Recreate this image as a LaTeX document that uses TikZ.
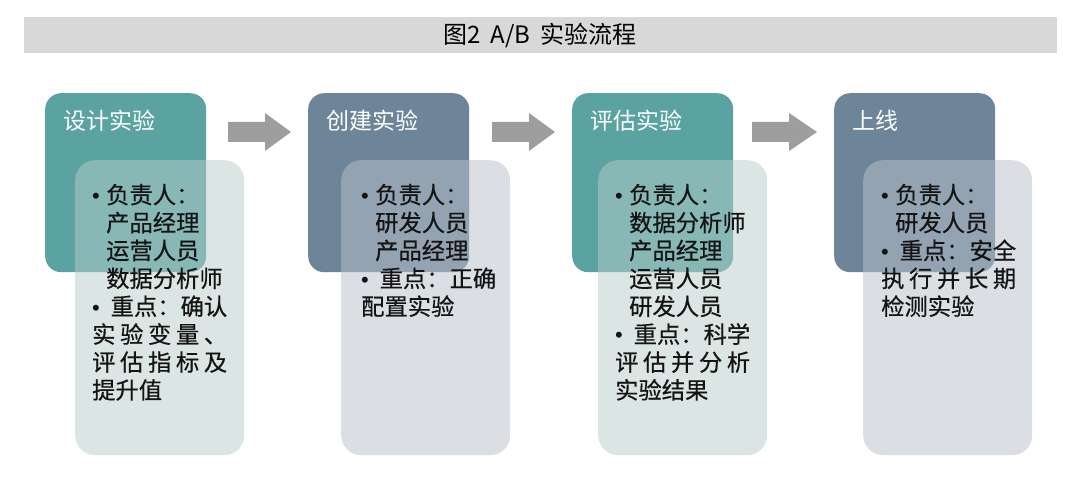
\documentclass[tikz,border=0pt]{standalone}
\usepackage{fontspec}
\setmainfont{Noto Sans CJK SC}
\newfontfamily\bodyfont[FakeBold=0.5]{Noto Sans CJK SC}
\newfontfamily\bulfont{Liberation Sans}
\definecolor{hdrteal}{RGB}{90,163,160}
\definecolor{hdrslate}{RGB}{110,133,153}
\definecolor{bodyteal}{RGB}{182,205,203}
\definecolor{bodyslate}{RGB}{185,193,203}
\definecolor{arrowgray}{RGB}{158,158,158}
\definecolor{titlegray}{RGB}{216,216,216}
\definecolor{txtdark}{RGB}{20,20,20}
\tikzset{
  hdrbox/.style={anchor=north west, rounded corners=16pt, minimum width=161pt, minimum height=179pt, inner sep=0pt},
  bodybox/.style={anchor=north west, rounded corners=20pt, minimum width=169pt, minimum height=295pt, inner sep=0pt, fill opacity=0.5},
  hdrtxt/.style={anchor=base west, inner sep=0pt, text=white, font=\fontsize{23}{28}\selectfont},
  bodytxt/.style={anchor=base west, inner sep=0pt, text=txtdark, font=\bodyfont\fontsize{23.3}{28}\selectfont},
  pics/blockarrow/.style={code={
    \fill[arrowgray] (0,-10) -- (37,-10) -- (37,-19) -- (#1,0) -- (37,19) -- (37,10) -- (0,10) -- cycle;}}
}
\newcommand{\bul}{{\bulfont\fontsize{22}{28}\selectfont •}}
\begin{document}
\begin{tikzpicture}[x=1pt,y=-1pt]
\useasboundingbox (0,0) rectangle (1080,489);
\fill[white] (0,0) rectangle (1080,489);
% title bar
\node[fill=titlegray, anchor=north west, minimum width=1033pt, minimum height=36pt, inner sep=0pt] (bar) at (24,17) {};
\node[font=\fontsize{24}{28}\selectfont, text=black] (title) at (540,35) {图2\hspace{10pt}A/B\hspace{10pt}实验流程};
% headers
\node[hdrbox, fill=hdrteal] (h1) at (45,93) {};
\node[hdrbox, fill=hdrslate] (h2) at (308,93) {};
\node[hdrbox, fill=hdrteal] (h3) at (572,93) {};
\node[hdrbox, fill=hdrslate] (h4) at (834,93) {};
\node[hdrtxt] (t1) at (63,130) {设计实验};
\node[hdrtxt] (t2) at (326,130) {创建实验};
\node[hdrtxt] (t3) at (590,130) {评估实验};
\node[hdrtxt] (t4) at (852,130) {上线};
% arrows
\coordinate (a1) at (228,132);
\coordinate (a2) at (492,132);
\coordinate (a3) at (752,132);
\pic at (a1) {blockarrow=63};
\pic at (a2) {blockarrow=63};
\pic at (a3) {blockarrow=65};
% bodies
\node[bodybox, fill=bodyteal] (b1) at (75,160) {};
\node[bodybox, fill=bodyslate] (b2) at (341,160) {};
\node[bodybox, fill=bodyteal] (b3) at (598,160) {};
\node[bodybox, fill=bodyslate] (b4) at (863,160) {};
% body texts
\foreach \t [count=\i] in {
  {\makebox[14pt][l]{\bul}负责人：},
  {\hspace*{14pt}产品经理},
  {\hspace*{14pt}运营人员},
  {\hspace*{14pt}数据分析师},
  {\makebox[135pt]{\bul\hfill 重点：确认}},
  {\makebox[135pt]{实\hfill 验\hfill 变\hfill 量\hfill 、}},
  {\makebox[135pt]{评\hfill 估\hfill 指\hfill 标\hfill 及}},
  {提升值}}
  \node[bodytxt] (ba\i) at (92,{203.5+27.9*(\i-1)}) {\t};
\foreach \t [count=\i] in {
  {\makebox[14pt][l]{\bul}负责人：},
  {\hspace*{14pt}研发人员},
  {\hspace*{14pt}产品经理},
  {\makebox[135pt]{\bul\hfill 重点：正确}},
  {配置实验}}
  \node[bodytxt] (bb\i) at (361,{203.5+27.9*(\i-1)}) {\t};
\foreach \t [count=\i] in {
  {\makebox[14pt][l]{\bul}负责人：},
  {\hspace*{14pt}数据分析师},
  {\hspace*{14pt}产品经理},
  {\hspace*{14pt}运营人员},
  {\hspace*{14pt}研发人员},
  {\makebox[135pt]{\bul\hfill 重点：科学}},
  {\makebox[135pt]{评\hfill 估\hfill 并\hfill 分\hfill 析}},
  {实验结果}}
  \node[bodytxt] (bc\i) at (615,{203.5+27.9*(\i-1)}) {\t};
\foreach \t [count=\i] in {
  {\makebox[14pt][l]{\bul}负责人：},
  {\hspace*{14pt}研发人员},
  {\makebox[135pt]{\bul\hfill 重点：安全}},
  {\makebox[135pt]{执\hfill 行\hfill 并\hfill 长\hfill 期}},
  {检测实验}}
  \node[bodytxt] (bd\i) at (881,{203.5+27.9*(\i-1)}) {\t};
\end{tikzpicture}
\end{document}
